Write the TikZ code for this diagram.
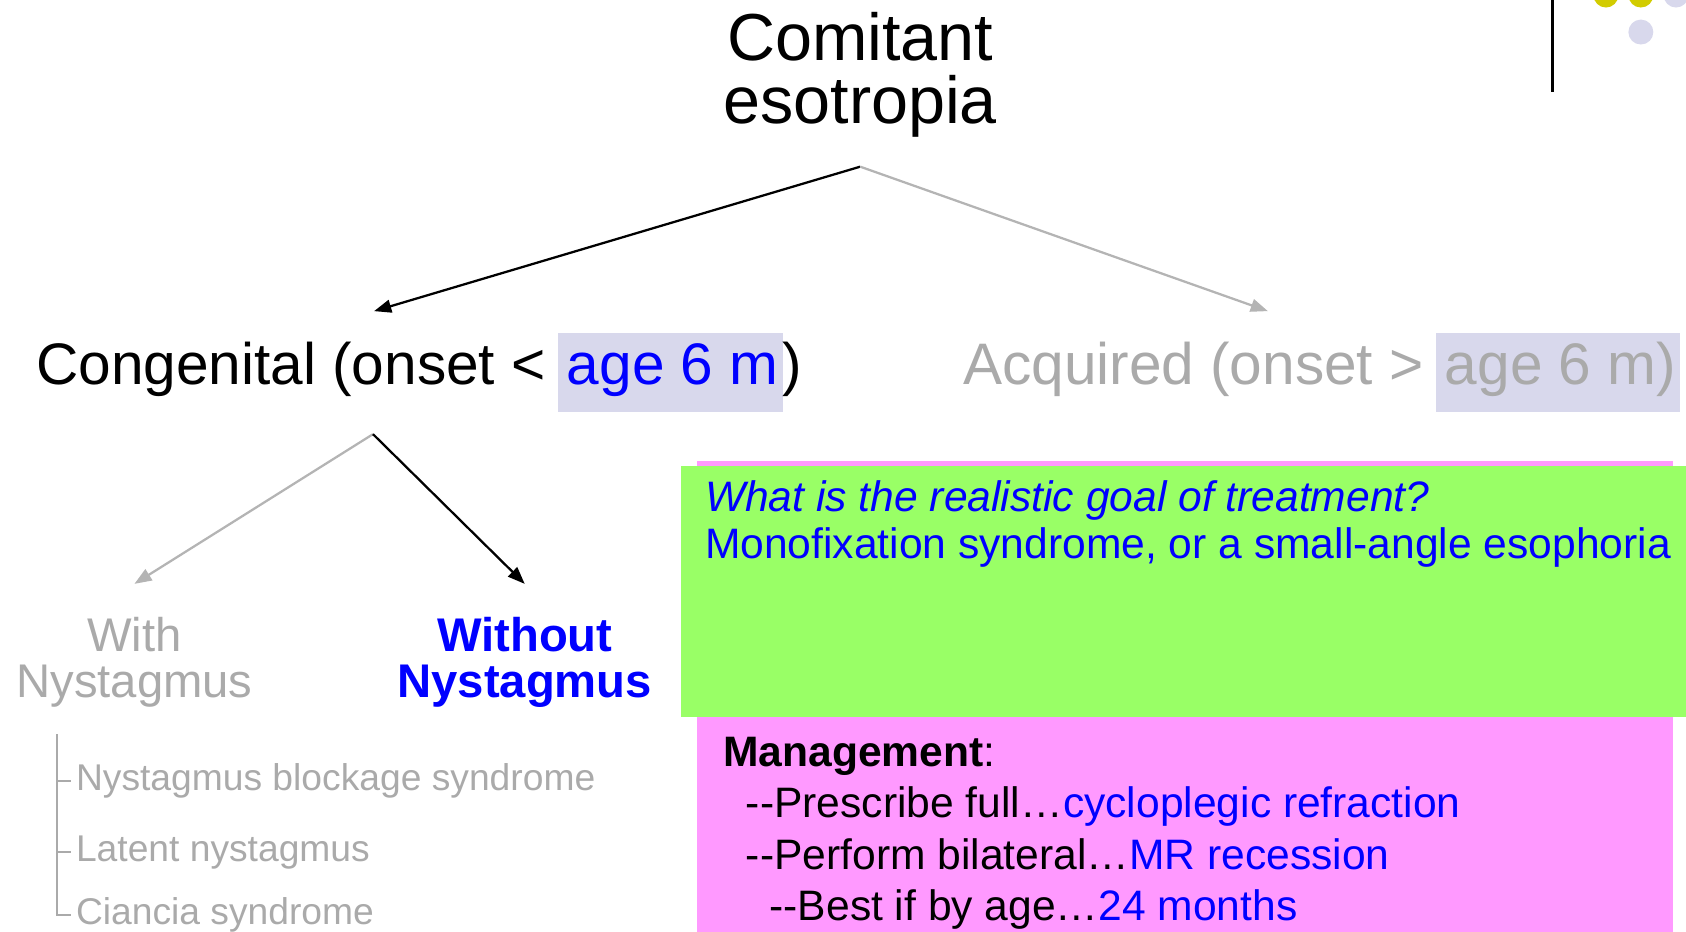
\documentclass[tikz,border=0pt]{standalone}
\usepackage{fontspec}
\setmainfont{Liberation Sans}
\usepackage{tikz}
\usetikzlibrary{arrows.meta}

\definecolor{fadegray}{RGB}{170,170,170}
\definecolor{linegray}{RGB}{180,180,180}
\definecolor{hlback}{RGB}{216,216,236}
\definecolor{pinkbox}{RGB}{255,153,255}
\definecolor{greenbox}{RGB}{153,255,102}
\definecolor{dotyellow}{RGB}{210,204,0}

\newcommand{\hilite}[1]{{\setlength{\fboxsep}{0pt}\colorbox{hlback}{\rule[-0.46em]{0pt}{1.34em}\hspace{0.16em}#1\hspace{0.07em}}}}

\begin{document}
\begin{tikzpicture}[
		title_style/.style={align=center,inner xsep=0pt,inner ysep=2.7mm,font=\fontsize{17.6}{16.6}\selectfont},
		onset_style/.style={inner xsep=0pt,inner ysep=2mm,font=\fontsize{15.5}{18}\selectfont},
		nys_style/.style={align=center,inner xsep=0pt,inner ysep=3mm,font=\fontsize{12.5}{12.2}\selectfont},
		item_style/.style={inner sep=0pt,text=fadegray,font=\fontsize{9.85}{12}\selectfont},
		box_text/.style={align=left,inner sep=0pt,font=\fontsize{11.27}{12.2}\selectfont},
		dark_edge/.style={draw=black,line width=0.6pt,-{Triangle[length=1.6mm,width=1.2mm]}},
		light_edge/.style={dark_edge,draw=linegray},
		rail_style/.style={draw=fadegray,line width=0.5pt}]

		\useasboundingbox (0,0) rectangle (15.68,-8.66);
		\clip (0,0) rectangle (15.68,-8.66);

		\draw[line width=0.8pt] (14.44,0) -- (14.44,-0.86);
		\fill[dotyellow] (14.935,0.046) circle (0.116);
		\fill[dotyellow] (15.26,0.046) circle (0.116);
		\fill[hlback] (15.587,0.046) circle (0.116);
		\fill[hlback] (15.26,-0.298) circle (0.116);

		\fill[pinkbox] (6.48,-4.29) rectangle (15.56,-8.80);
		\fill[greenbox] (6.33,-4.33) rectangle (15.68,-6.67);

		\node[title_style,anchor=south] (root) at (8.00,-1.55) {Comitant\\esotropia};
		\node[onset_style,anchor=base west] (cong) at (0.33,-3.58)
			{Congenital (onset <\hspace{0.2em}\hilite{\color{blue}age 6 m})};
		\node[onset_style,anchor=base west,text=fadegray] (acq) at (8.95,-3.58)
			{Acquired (onset >\hspace{0.2em}\hilite{age 6 m)}};
		\node[nys_style,anchor=north,text=fadegray] (withn) at (1.25,-5.43) {With\\Nystagmus};
		\node[nys_style,anchor=north,text=blue,font=\fontsize{12.5}{12.2}\selectfont\bfseries] (withoutn) at (4.88,-5.43) {Without\\Nystagmus};

		\node[item_style,anchor=base west] (nbs) at (0.70,-7.35) {Nystagmus blockage syndrome};
		\node[item_style,anchor=base west] (latent) at (0.70,-8.01) {Latent nystagmus};
		\node[item_style,anchor=base west] (ciancia) at (0.70,-8.60) {Ciancia syndrome};
		\coordinate (rail) at (0.53,-6.83);

		\node[box_text,anchor=base west,text=blue] (goal) at (6.55,-5.19)
			{{\itshape What is the realistic goal of treatment?}\\Monofixation syndrome, or a small-angle esophoria};
		\node[box_text,anchor=base west,font=\fontsize{11.27}{13.6}\selectfont] (mgmt) at (6.72,-8.56)
			{\textbf{Management}:\\
			\hspace*{0.21cm}-{}-Prescribe full\ldots\textcolor{blue}{cycloplegic refraction}\\
			\hspace*{0.21cm}-{}-Perform bilateral\ldots\textcolor{blue}{MR recession}\\
			\hspace*{0.43cm}-{}-Best if by age\ldots\textcolor{blue}{24 months}};

		\draw[dark_edge] (root.south) -- ([xshift=-4.2mm]cong.north);
		\draw[light_edge] (root.south) -- ([xshift=-5mm]acq.north);
		\draw[light_edge] ([xshift=-4.3mm]cong.south) -- (withn.north);
		\draw[dark_edge] ([xshift=-4.3mm]cong.south) -- (withoutn.north);

		\draw[rail_style] (rail) |- ([xshift=-0.4mm]ciancia.west);
		\draw[rail_style] (rail |- nbs.west) -- ([xshift=-0.4mm]nbs.west);
		\draw[rail_style] (rail |- latent.west) -- ([xshift=-0.4mm]latent.west);

\end{tikzpicture}
\end{document}
